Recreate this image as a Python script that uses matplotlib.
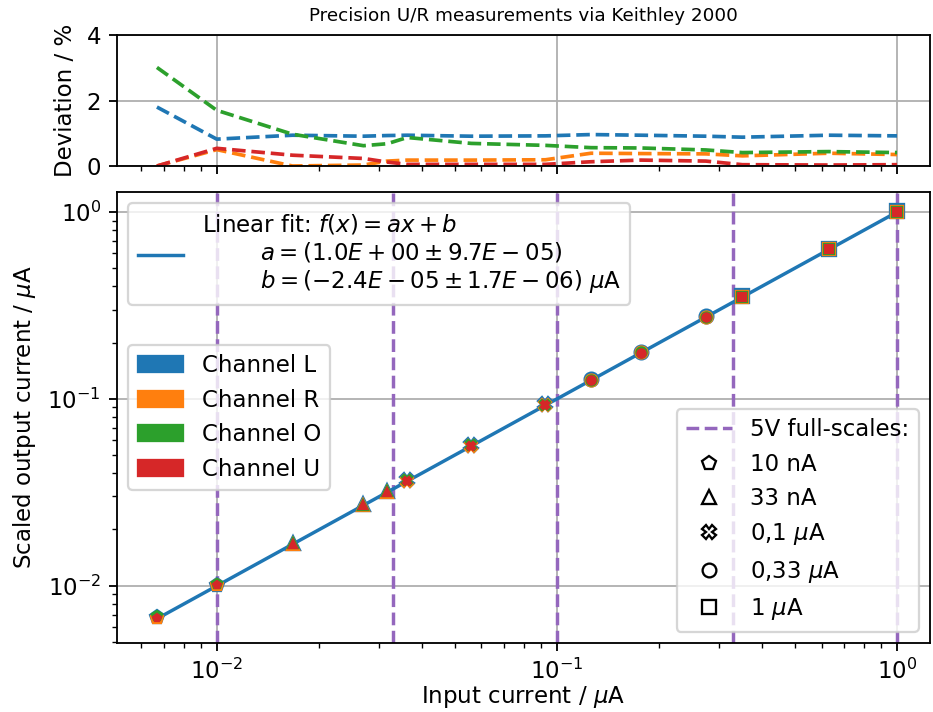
import matplotlib
matplotlib.use("Agg")
import matplotlib.pyplot as plt
import numpy as np
from matplotlib.patches import Patch
from matplotlib.lines import Line2D

# ---------------- data ----------------
x_in = np.array([0.00667, 0.01, 0.0167, 0.027, 0.0317, 0.0363, 0.056, 0.0925,
                 0.126, 0.1766, 0.274, 0.351, 0.63, 1.0])
# which full-scale range (marker group) each point belongs to
group_idx = [0, 0, 1, 1, 1, 2, 2, 2, 3, 3, 3, 4, 4, 4]

dev_L = np.array([1.80, 0.82, 0.94, 0.91, 0.93, 0.94, 0.91, 0.92, 0.96, 0.94, 0.91, 0.88, 0.94, 0.92])
dev_R = np.array([0.00, 0.50, 0.00, 0.03, 0.15, 0.18, 0.18, 0.19, 0.39, 0.38, 0.37, 0.31, 0.39, 0.35])
dev_O = np.array([3.01, 1.70, 0.97, 0.62, 0.68, 0.87, 0.69, 0.63, 0.56, 0.55, 0.49, 0.41, 0.44, 0.41])
dev_U = np.array([0.00, 0.54, 0.33, 0.23, 0.12, 0.05, 0.05, 0.05, 0.13, 0.18, 0.15, 0.04, 0.03, 0.04])

channels = ["Channel L", "Channel R", "Channel O", "Channel U"]
ch_colors = ["tab:blue", "tab:orange", "tab:green", "tab:red"]
devs = [dev_L, dev_R, dev_O, dev_U]

full_scales = [0.01, 0.033, 0.1, 0.33, 1.0]
fs_labels = ["10 nA", "33 nA", "0,1 $\\mu$A", "0,33 $\\mu$A", "1 $\\mu$A"]
fs_markers = ["p", "^", "X", "o", "s"]

fit_a = 1.0
fit_b = -2.4e-5
fit_label = ("Linear fit: $f(x) = ax + b$\n"
             "        $a = (1.0E+00 \\pm 9.7E-05)$\n"
             "        $b = (-2.4E-05 \\pm 1.7E-06)$ $\\mu$A")

# ---------------- figure ----------------
W, H = 934, 712
DPI = 165
fig = plt.figure(figsize=(W / DPI, H / DPI), dpi=DPI)
L, R = 117, 930
ax_dev = fig.add_axes([L / W, 1 - 166 / H, (R - L) / W, 131 / H])
ax = fig.add_axes([L / W, 1 - 643 / H, (R - L) / W, 451 / H], sharex=ax_dev)

ax.set_xscale("log")
ax.set_yscale("log")

# deviation panel
for d, c in zip(devs, ch_colors):
    ax_dev.plot(x_in, d, "--", color=c, lw=1.6)
ax_dev.set_ylim(0, 4)
ax_dev.set_yticks([0, 2, 4])
ax_dev.set_ylabel("Deviation / %")
ax_dev.grid(True)
ax_dev.tick_params(axis="x", which="both", labelbottom=False)
ax_dev.set_title("Precision U/R measurements via Keithley 2000", fontsize=8)

# main panel
for fs in full_scales:
    ax.axvline(fs, color="tab:purple", ls="--", lw=1.5)

xf = np.array([x_in.min(), x_in.max()])
fit_line, = ax.plot(xf, fit_a * xf + fit_b, color="tab:blue", lw=1.5, zorder=3)

sizes = [6.0, 5.2, 4.4, 3.6]
for d, c, ms in zip(devs, ch_colors, sizes):
    y_out = x_in * (1 + d / 100.0)
    for g, m in enumerate(fs_markers):
        sel = [i for i, gi in enumerate(group_idx) if gi == g]
        ax.plot(x_in[sel], y_out[sel], ls="none", marker=m, color=c, ms=ms, zorder=4)

ax.set_xlim(0.00509, 1.25)
ax.set_ylim(0.00493, 1.28)
ax.grid(True, which="major")
ax.set_xlabel("Input current / $\\mu$A", labelpad=0)
ax.set_ylabel("Scaled output current / $\\mu$A")

leg1 = ax.legend(handles=[fit_line], labels=[fit_label], loc="upper left")
ax.add_artist(leg1)
patches = [Patch(color=c, label=n) for c, n in zip(ch_colors, channels)]
leg2 = ax.legend(handles=patches, loc="center left")
ax.add_artist(leg2)
h3 = [Line2D([], [], color="tab:purple", ls="--", lw=1.5, label="5V full-scales:")]
for m, lbl in zip(fs_markers, fs_labels):
    h3.append(Line2D([], [], ls="none", marker=m, mfc="none", mec="k", color="k", label=lbl))
ax.legend(handles=h3, loc="lower right")

fig.savefig("out.png", dpi=DPI)
